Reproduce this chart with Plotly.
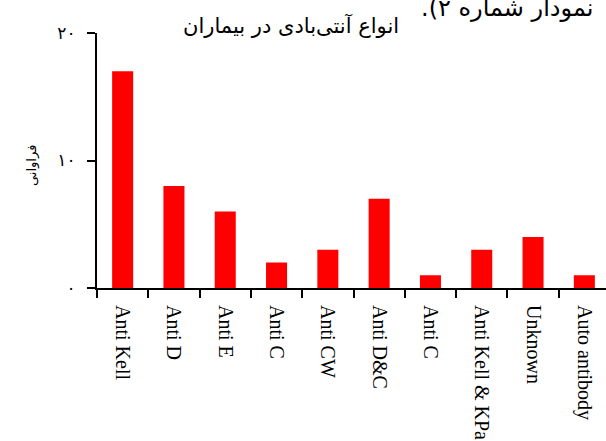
import plotly.graph_objects as go

categories = ["Anti Kell", "Anti D", "Anti E", "Anti C", "Anti CW", "Anti D&C",
              "Anti C", "Anti Kell & KPa", "Unknown", "Auto antibody"]
frequencies = [17, 8, 6, 2, 3, 7, 1, 3, 4, 1]
y_tick_values = [0, 10, 20]
y_tick_labels = ["۰", "۱۰", "۲۰"]
title_text = "انواع آنتی‌بادی در بیماران"
caption_text = "\u200fنمودار شماره ۲).\u200f"
y_title_text = "فراوانی"

positions = list(range(len(categories)))
boundaries = [p - 0.5 for p in positions] + [positions[-1] + 0.5]

W, H = 606, 441
L, R, T, B = 97, 0, 33, 153
pw = W - L - R
ph = H - T - B
cat_px = 51.3
x_end = -0.5 + pw / cat_px

fig = go.Figure(go.Bar(
    x=positions, y=frequencies, width=0.41,
    marker=dict(color="#ff0000", line=dict(width=0)),
))

fig.update_layout(
    width=W, height=H, autosize=False,
    margin=dict(l=L, r=R, t=T, b=B, pad=0),
    plot_bgcolor="white", paper_bgcolor="white",
    showlegend=False,
    font=dict(family="Liberation Serif", color="black"),
)

fig.update_xaxes(
    type="linear", range=[-0.5, x_end],
    tickmode="array", tickvals=positions, ticktext=categories,
    tickangle=90, ticks="outside", ticklen=11, tickcolor="rgba(0,0,0,0)",
    tickfont=dict(family="Liberation Serif", size=20, color="black"),
    showline=True, linewidth=2, linecolor="black",
    showgrid=False, zeroline=False,
    minor=dict(tickmode="array", tickvals=boundaries, ticks="outside",
               ticklen=8, tickwidth=2, tickcolor="black", showgrid=False),
)

fig.update_yaxes(
    range=[0, 20], tickmode="array", tickvals=y_tick_values, ticktext=y_tick_labels,
    ticks="outside", ticklen=8, tickwidth=2, tickcolor="black",
    tickfont=dict(family="DejaVu Sans", size=17, color="black"),
    ticklabelstandoff=8,
    showline=True, linewidth=2, linecolor="black",
    showgrid=False, zeroline=False,
)

fig.add_annotation(
    text=y_title_text, textangle=-90, showarrow=False,
    xref="paper", yref="paper", x=(32 - L) / pw, y=(H - B - 166) / ph,
    xanchor="center", yanchor="middle",
    font=dict(family="DejaVu Sans", size=13, color="black"),
)
fig.add_annotation(
    text=title_text, showarrow=False,
    xref="paper", yref="paper", x=(291 - L) / pw, y=1 + (T - 25) / ph,
    xanchor="center", yanchor="middle",
    font=dict(family="DejaVu Sans", size=21, color="black"),
)
fig.add_annotation(
    text=caption_text, showarrow=False,
    xref="paper", yref="paper", x=(419 - L) / pw, y=1 + (T - 8) / ph,
    xanchor="left", yanchor="middle",
    font=dict(family="DejaVu Sans", size=24, color="black"),
)

fig.write_html("out.html", config={"displayModeBar": False},
               post_script="document.body.style.margin='0';document.body.style.overflow='hidden';")
